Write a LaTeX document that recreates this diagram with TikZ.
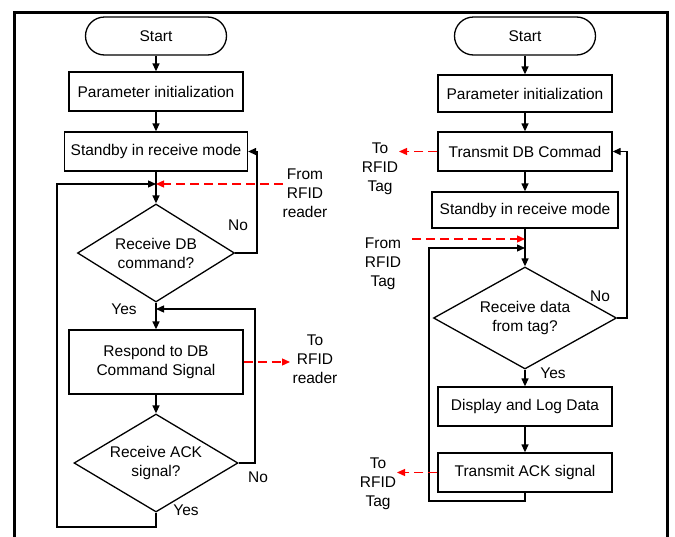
\documentclass[tikz,border=0pt]{standalone}
\usepackage{fontspec}
\setmainfont{Liberation Sans}
\usetikzlibrary{shapes.geometric,arrows.meta}
\begin{document}
\begin{tikzpicture}[x=1pt,y=-1pt, font=\fontsize{15.5}{19}\selectfont,
  proc/.style={draw, line width=1.3pt, rectangle, inner sep=0pt, align=center},
  term/.style={draw, line width=1.3pt, rounded corners=19pt, inner sep=0pt, minimum width=141pt, minimum height=38pt},
  dec/.style={draw, line width=1.3pt, diamond, aspect=1.8, inner sep=0pt, align=center},
  arr/.style={line width=1.3pt, -{Triangle[length=8pt,width=7pt]}},
  ln/.style={line width=1.3pt},
  sig/.style={red, line width=1.3pt, dash pattern=on 9pt off 5pt, -{Triangle[length=8pt,width=7pt]}},
  lbl/.style={align=center, inner sep=0pt}
]
\useasboundingbox (0,0) rectangle (675,536);
% frame
\draw[line width=3pt] (14.5,537) -- (14.5,12) -- (667.5,12) -- (667.5,537);

% ---------- left flowchart ----------
\node[term] (s1) at (156,36) {Start};
\node[proc, minimum width=174pt, minimum height=39pt] (p1) at (156,91.5) {Parameter initialization};
\node[proc, minimum width=183pt, minimum height=39pt] (sb1) at (156,151.5) {Standby in receive mode};
\node[dec, minimum width=157pt, minimum height=98pt] (d1) at (156,253) {Receive DB\\command?};
\node[proc, minimum width=174pt, minimum height=64pt] (r1) at (156,362) {Respond to DB\\Command Signal};
\node[dec, minimum width=164pt, minimum height=98pt] (d2) at (156,463) {Receive ACK\\signal?};

\coordinate (m1) at (156,184);
\coordinate (m2) at (156,309);

\draw[arr] (s1) -- (p1);
\draw[arr] (p1) -- (sb1);
\draw[arr] (sb1) -- (d1);
\draw[arr] (d1.east) -- (257,253) -- (257,151.5) -- (sb1.east);
\draw[arr] (d1) -- (r1);
\draw[arr] (r1) -- (d2);
\draw[arr] (d2.east) -- (255,463) -- (255,309) -- (m2);
\draw[arr] (d2.south) -- (156,527) -- (57,527) -- (57,184) -- (m1);
\draw[sig] (283,184) -- (m1);
\draw[sig] (r1.east) -- (290,362);

\node[lbl] (fr1) at (305,193) {From\\RFID\\reader};
\node[lbl] (tr1) at (315,359) {To\\RFID\\reader};
\node[lbl] (no1) at (238,225) {No};
\node[lbl] (ye1) at (124,309) {Yes};
\node[lbl] (no2) at (258,477) {No};
\node[lbl] (ye2) at (186,510) {Yes};

% ---------- right flowchart ----------
\node[term] (s2) at (525,36) {Start};
\node[proc, minimum width=174pt, minimum height=37pt] (p2) at (525,93.5) {Parameter initialization};
\node[proc, minimum width=174pt, minimum height=39pt] (t2) at (525,151.5) {Transmit DB Commad};
\node[proc, minimum width=186pt, minimum height=36pt] (sb2) at (525,210) {Standby in receive mode};
\node[dec, minimum width=183pt, minimum height=102pt] (d3) at (525,318) {Receive data\\from tag?};
\node[proc, minimum width=174pt, minimum height=39pt] (dl) at (525,406.5) {Display and Log Data};
\node[proc, minimum width=174pt, minimum height=39pt] (ak) at (525,472.5) {Transmit ACK signal};

\coordinate (m3) at (525,248);
\coordinate (m4) at (525,239);

\draw[arr] (s2) -- (p2);
\draw[arr] (p2) -- (t2);
\draw[arr] (t2) -- (sb2);
\draw[arr] (sb2) -- (d3);
\draw[arr] (d3.east) -- (627,318) -- (627,151.5) -- (t2.east);
\draw[arr] (d3) -- (dl);
\draw[arr] (dl) -- (ak);
\draw[arr] (ak.south) -- (525,501) -- (429,501) -- (429,248) -- (m3);
\draw[sig] (t2.west) -- (399,151.5);
\draw[sig] (412,239) -- (m4);
\draw[sig] (ak.west) -- (397,472.5);

\node[lbl] (tt1) at (380,169) {To\\RFID\\Tag};
\node[lbl] (ft1) at (383,264) {From\\RFID\\Tag};
\node[lbl] (tt2) at (378,484) {To\\RFID\\Tag};
\node[lbl] (no3) at (600,296) {No};
\node[lbl] (ye3) at (553,373) {Yes};
\end{tikzpicture}
\end{document}
